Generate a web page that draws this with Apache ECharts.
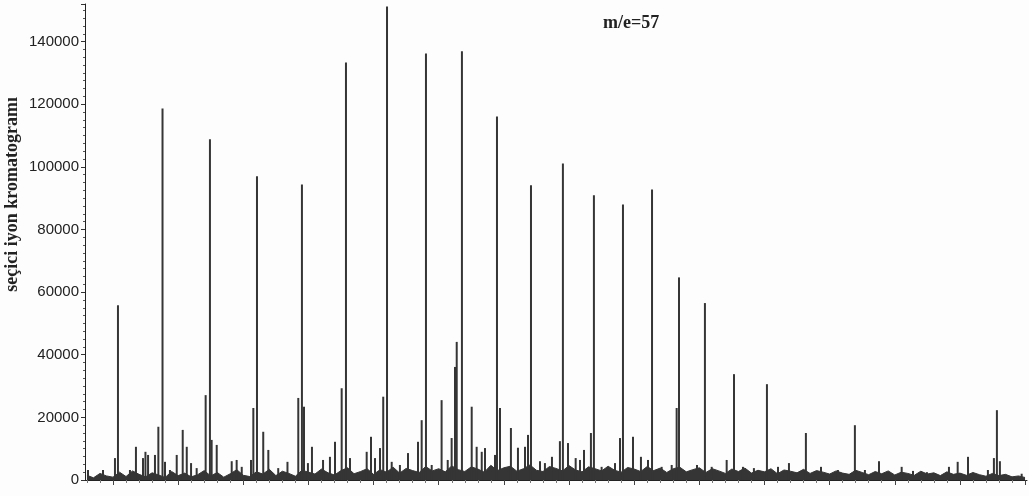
<!DOCTYPE html>
<html>
<head>
<meta charset="utf-8">
<script src="https://cdn.jsdelivr.net/npm/echarts@6/dist/echarts.min.js"></script>
<style>
  html, body { margin: 0; padding: 0; background: #fdfdfd; }
  #chart { width: 1029px; height: 496px; }
</style>
</head>
<body>
<div id="chart"></div>
<script>
// Retention time (min) of each resolved peak in the m/e=57 trace
const peakTimes = [
  3.08, 4.23, 5.15, 5.38, 6.30, 6.76, 7.30, 7.49, 7.69, 8.22, 8.48, 8.80, 8.99, 9.37, 9.89,
  10.35, 10.66, 10.99, 11.42, 12.11, 12.44, 12.57, 12.96, 14.11, 14.49, 14.88, 15.59, 15.77,
  16.05, 16.53, 16.92, 17.68, 18.39, 19.22, 19.50, 19.66, 19.96, 20.27, 21.12, 21.65, 22.04,
  22.55, 22.88, 23.19, 24.47, 24.80, 25.11, 25.49, 25.74, 26.03, 26.39, 27.02, 27.64, 28.41,
  28.69, 29.02, 29.46, 30.22, 30.69, 30.99, 31.25, 31.38, 31.78, 32.53, 32.91, 33.30, 33.55,
  34.32, 34.47, 34.70, 35.54, 36.08, 36.62, 36.85, 37.08, 37.77, 38.15, 38.69, 39.30, 39.53,
  39.92, 40.51, 40.84, 41.15, 41.68, 41.91, 42.50, 43.53, 43.91, 44.14, 44.91, 45.52, 46.06,
  46.37, 47.11, 47.88, 48.26, 48.44, 49.82, 50.43, 50.95, 52.10, 52.66, 53.35, 54.19, 55.19,
  56.04, 56.88, 58.18, 59.34, 60.64, 61.94, 62.71, 63.79, 65.53, 66.40, 67.47, 69.16, 69.83,
  70.62, 72.15, 72.61, 72.84, 73.07, 74.74
];
// Peak intensity (counts) for each retention time above
const peakHeights = [
  3200, 3200, 7000, 55800, 3200, 10600, 7000, 9000, 8000, 8000, 17000, 118600, 5800, 3200, 8000,
  16000, 10600, 5400, 3800, 27100, 108800, 12800, 11200, 6000, 6400, 4200, 6400, 23000,
  97000, 15400, 9600, 3800, 5800, 26200, 94400, 23400, 5400, 10600, 6400, 7400, 12200,
  29300, 133300, 7000, 9000, 13800, 7000, 10200, 26600, 151200, 5800, 4800, 8600, 12200,
  19100, 136200, 4800, 25500, 6400, 13400, 36100, 44100, 136900, 23400, 10600, 9000, 10200,
  8000, 116100, 23000, 16600, 10300, 10600, 14400, 94100, 6000, 5400, 7400, 12400, 101100,
  11800, 7000, 6400, 9600, 15000, 90900, 4200, 5400, 13400, 88000, 13800, 7400, 6400,
  92800, 4200, 4800, 23000, 64700, 4800, 56500, 4200, 6400, 33800, 4200, 3800, 30600,
  4200, 5400, 15000, 4200, 3200, 17500, 3200, 6000, 4200, 2900, 2500, 4200, 5800,
  7400, 3200, 7000, 22300, 6000, 2000
];
// Baseline noise level, read every half minute from 3.0 to 75.0 min
const noiseStart = 3.0;
const noiseStep = 0.5;
const noiseLevels = [
  1500, 700, 2100, 1300, 900, 2500, 1100, 2900, 1800, 1000, 2300, 1600, 800, 2700, 1400,
  2200, 1000, 1700, 3000, 1300, 2400, 900, 2000, 3300, 1500, 1100, 2600, 1900, 3400, 1400, 2800, 2100, 1200, 3100, 2500,
  1900, 3500, 2300, 1600, 3000, 3900, 2000, 2700, 3600, 1800, 3300, 2500, 4100, 2200, 3700, 3000, 2400, 4300, 2900, 3600,
  2600, 4500, 3300, 2700, 4200, 3500, 2500, 4700, 3000, 3900, 4400, 2800, 3600, 4800, 3100, 2700, 4300, 3700, 2900, 4600,
  3200, 2600, 4200, 3600, 2900, 4400, 3100, 2500, 4000, 3500, 2700, 4300, 3000, 3800, 2400, 3600, 4100, 2600, 3300, 3900,
  2400, 3600, 2900, 2100, 3500, 2700, 3800, 2200, 3100, 2600, 3600, 2000, 3200, 2800, 2300, 3400, 2100, 3000, 2500, 1900,
  2900, 2200, 1800, 3100, 2400, 1700, 2700, 2000, 2900, 1600, 2500, 2100, 1500, 2800, 1900, 2300, 1400, 2600, 1800, 2200,
  1500, 2400, 1700, 1200, 2100, 1400, 1800, 1000, 1300, 800
];
// Axis ranges and tick marks
const timeMin = 2.85, timeMax = 75.15;
const majorTimeTicks = [5, 10, 15, 20, 25, 30, 35, 40, 45, 50, 55, 60, 65, 70, 75];
const minorTimeTicks = [3, 4, 6, 7, 8, 9, 11, 12, 13, 14, 16, 17, 18, 19, 21, 22, 23, 24, 26, 27, 28, 29,
  31, 32, 33, 34, 36, 37, 38, 39, 41, 42, 43, 44, 46, 47, 48, 49, 51, 52, 53, 54, 56, 57, 58, 59,
  61, 62, 63, 64, 66, 67, 68, 69, 71, 72, 73, 74];
const intensityMax = 152000, intensityStep = 20000;
const yTitle = 'seçici iyon kromatogramı';
const ionLabel = 'm/e=57';

const traceColor = '#353535';
const peakData = peakTimes.map((t, i) => [t, peakHeights[i]]);
const noiseData = noiseLevels.map((v, i) => [noiseStart + i * noiseStep, v]);

const chart = echarts.init(document.getElementById('chart'), null, { renderer: 'canvas' });
chart.setOption({
  backgroundColor: '#fdfdfd',
  animation: false,
  grid: { left: 85, right: 2, top: 4, bottom: 16, containLabel: false },
  xAxis: [
    {
      type: 'value', min: timeMin, max: timeMax,
      axisLine: { show: true, lineStyle: { color: '#222', width: 1 } },
      axisTick: { show: true, customValues: majorTimeTicks, length: 5, lineStyle: { color: '#444' } },
      axisLabel: { show: false },
      splitLine: { show: false }
    },
    {
      type: 'value', min: timeMin, max: timeMax, position: 'bottom',
      axisLine: { show: false },
      axisTick: { show: true, customValues: minorTimeTicks, length: 3, lineStyle: { color: '#777' } },
      axisLabel: { show: false },
      splitLine: { show: false }
    }
  ],
  yAxis: {
    type: 'value', min: 0, max: intensityMax, interval: intensityStep,
    axisLine: { show: true, lineStyle: { color: '#222', width: 1 } },
    axisTick: { show: true, length: 4, lineStyle: { color: '#333' } },
    minorTick: { show: true, splitNumber: 8, length: 2, lineStyle: { color: '#555' } },
    axisLabel: {
      margin: 6, fontSize: 15, color: '#222', fontFamily: 'Liberation Sans, Arial, sans-serif',
      showMaxLabel: false,
      formatter: v => (v % intensityStep === 0 ? String(v) : '')
    },
    splitLine: { show: false }
  },
  graphic: [
    {
      type: 'text', left: 3, top: 97, rotation: Math.PI / 2,
      style: {
        text: yTitle, fill: '#222', font: 'bold 18px "Liberation Serif", "Times New Roman", serif'
      }
    },
    {
      type: 'text', left: 603, top: 14,
      style: {
        text: ionLabel, fill: '#222', font: 'bold 18px "Liberation Serif", "Times New Roman", serif'
      }
    }
  ],
  series: [
    {
      type: 'line', xAxisIndex: 0, data: noiseData, symbol: 'none',
      lineStyle: { color: traceColor, width: 1 },
      areaStyle: { color: traceColor, opacity: 1 },
      z: 2
    },
    {
      type: 'bar', xAxisIndex: 0, data: peakData, barWidth: 2,
      itemStyle: { color: traceColor },
      z: 3
    }
  ]
});
</script>
</body>
</html>
